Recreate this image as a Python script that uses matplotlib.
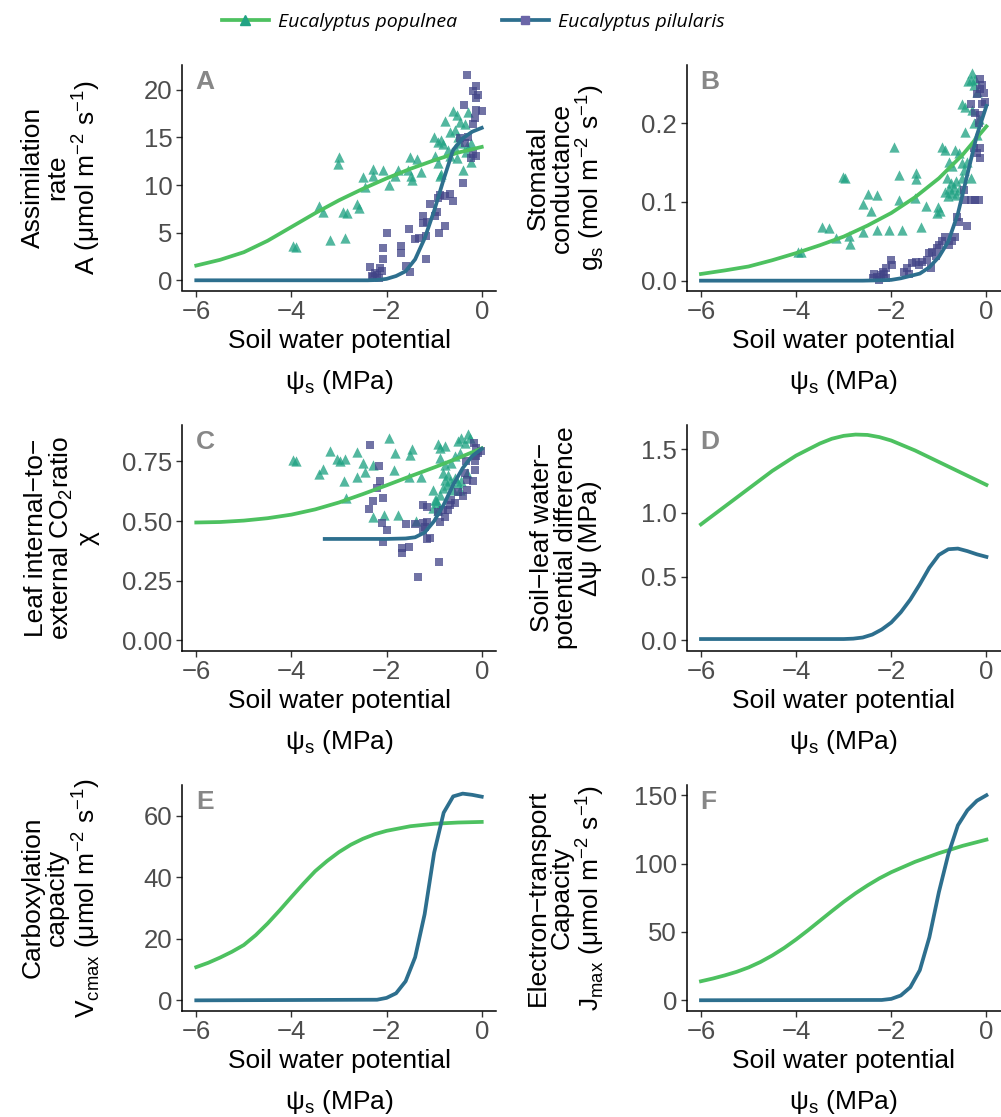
import matplotlib
matplotlib.use("Agg")
import matplotlib.pyplot as plt
from matplotlib.lines import Line2D

plt.rcParams['font.family'] = ['Liberation Sans', 'DejaVu Sans']

# ---------------- colours ----------------
GREEN = '#4DC160'
BLUE = '#2D6F8E'
TRI = '#22A384'
SQ = '#414487'

species = ['Eucalyptus populnea', 'Eucalyptus pilularis']

# ---------------- panel A: assimilation ----------------
A_pop_x = [-3.97, -3.90, -3.43, -3.33, -3.19, -2.99, -3.03, -2.87, -2.91, -2.84, -2.62, -2.59, -2.49, -2.45, -2.29,
           -2.28, -2.07, -1.94, -1.83, -1.76, -1.55, -1.51, -1.49, -1.47, -1.37, -1.27, -1.01, -0.99, -0.92, -0.92,
           -0.88, -0.85, -0.85, -0.81, -0.78, -0.71, -0.67, -0.67, -0.61, -0.57, -0.57, -0.53, -0.52, -0.50, -0.46,
           -0.45, -0.39, -0.35, -0.34, -0.32, -0.29, -0.22, -0.22]
A_pop_y = [3.6, 3.5, 7.8, 7.2, 4.25, 12.9, 12.2, 4.4, 7.2, 7.1, 8.0, 7.6, 10.8, 9.8, 11.7,
           10.9, 11.6, 10.0, 11.0, 11.6, 11.6, 12.9, 10.9, 10.5, 12.7, 11.4, 15.0, 13.0, 14.5, 12.3,
           10.9, 14.7, 11.2, 14.3, 16.7, 13.7, 15.6, 13.1, 17.8, 15.8, 13.9, 12.8, 17.3, 15.0, 16.6,
           14.4, 11.6, 16.4, 13.5, 14.1, 17.7, 14.4, 12.4]
A_pil_x = [-0.32, -0.11, -0.18, -0.08, -0.13, -0.38, -0.11, 0.0, -0.15, -0.18, -0.45, -0.36, -0.29, -0.18, -0.13,
           -0.22, -0.39, -0.88, -0.92, -0.78, -0.67, -0.61, -1.09, -0.95, -0.99, -1.23, -1.24, -1.15, -0.78, -0.90,
           -1.53, -1.41, -1.32, -1.18, -1.99, -1.69, -1.69, -2.07, -1.18, -2.08, -2.14, -2.35, -2.24, -2.10, -2.31,
           -2.15, -1.51, -1.60, -2.28, -2.20]
A_pil_y = [21.6, 20.4, 19.9, 19.5, 19.1, 18.4, 17.9, 17.8, 17.0, 16.4, 14.9, 14.4, 15.0, 13.3, 13.0,
           12.8, 10.2, 9.0, 8.6, 8.8, 9.1, 8.3, 8.0, 7.2, 6.7, 6.8, 6.0, 6.1, 5.7, 5.0,
           5.4, 4.3, 4.4, 4.7, 5.0, 3.6, 2.9, 3.4, 2.2, 2.2, 1.3, 1.4, 0.77, 0.94, 0.42,
           0.25, 0.88, 1.5, 0.3, 0.6]
A_pop_cx = [-6, -5.5, -5, -4.5, -4, -3.5, -3, -2.5, -2, -1.5, -1, -0.5, 0]
A_pop_cy = [1.55, 2.15, 2.95, 4.15, 5.6, 7.05, 8.4, 9.6, 10.7, 11.7, 12.6, 13.4, 14.0]
A_pil_cx = [-6, -2.4, -2.2, -2.0, -1.8, -1.6, -1.4, -1.2, -1.0, -0.8, -0.6, -0.4, -0.2, 0]
A_pil_cy = [0, 0, 0.03, 0.15, 0.45, 0.95, 2.2, 4.4, 7.3, 10.6, 13.7, 14.9, 15.6, 16.0]

# ---------------- panel B: stomatal conductance ----------------
B_pop_x = [-3.96, -3.89, -3.45, -3.31, -3.17, -3.01, -2.97, -2.88, -2.86, -2.60, -2.48, -2.29, -2.60, -2.43, -2.29,
           -2.04, -1.77, -1.38, -1.94, -1.84, -1.49, -1.49, -1.84, -1.50, -1.26, -1.01, -0.98, -1.03, -0.93, -0.87,
           -0.66, -0.58, -0.79, -0.72, -0.51, -0.47, -0.40, -0.82, -0.65, -0.75, -0.68, -0.79, -0.58, -0.51, -0.33,
           -0.87, -0.72, -0.80, -0.65, -0.30, -0.33, -0.23, -0.38, -0.27, -0.20, -0.51, -0.45, -0.30, -0.27, -0.16,
           -0.44, -0.20]
B_pop_y = [0.037, 0.036, 0.068, 0.067, 0.054, 0.132, 0.130, 0.057, 0.047, 0.062, 0.110, 0.109, 0.098, 0.088, 0.064,
           0.064, 0.064, 0.068, 0.170, 0.134, 0.137, 0.129, 0.103, 0.105, 0.095, 0.094, 0.088, 0.086, 0.170, 0.166,
           0.166, 0.162, 0.151, 0.146, 0.149, 0.141, 0.151, 0.130, 0.127, 0.124, 0.119, 0.117, 0.115, 0.130, 0.130,
           0.113, 0.111, 0.107, 0.109, 0.264, 0.255, 0.256, 0.254, 0.249, 0.240, 0.225, 0.221, 0.217, 0.200, 0.205,
           0.189, 0.185]
B_pil_x = [-0.13, -0.09, -0.13, -0.06, -0.20, -0.02, -0.09, -0.33, -0.23, -0.13, -0.16, -0.27, -0.13, -0.13, -0.20,
           -0.47, -0.44, -0.33, -0.23, -0.16, -0.41, -0.61, -0.58, -0.66, -0.72, -0.79, -0.93, -0.87, -1.00, -1.03,
           -1.14, -1.21, -1.07, -1.24, -1.35, -1.42, -1.49, -1.56, -1.17, -2.01, -1.98, -1.66, -1.73, -1.63, -2.36,
           -2.29, -2.22, -2.15, -2.11, -2.25, -2.39, -2.18, -2.11]
B_pil_y = [0.256, 0.249, 0.243, 0.238, 0.237, 0.227, 0.225, 0.225, 0.213, 0.211, 0.200, 0.168, 0.168, 0.156, 0.162,
           0.115, 0.103, 0.102, 0.102, 0.102, 0.069, 0.081, 0.075, 0.056, 0.050, 0.045, 0.050, 0.056, 0.045, 0.041,
           0.037, 0.035, 0.031, 0.026, 0.024, 0.020, 0.024, 0.022, 0.016, 0.026, 0.020, 0.016, 0.011, 0.009, 0.009,
           0.005, 0.007, 0.009, 0.003, 0.001, 0.003, 0.011, 0.016]
B_pop_cx = [-6, -5.5, -5, -4.5, -4, -3.5, -3, -2.5, -2, -1.5, -1, -0.5, 0]
B_pop_cy = [0.0085, 0.013, 0.018, 0.026, 0.035, 0.045, 0.056, 0.070, 0.086, 0.106, 0.130, 0.160, 0.196]
B_pil_cx = [-6, -2.6, -2.2, -2.0, -1.8, -1.6, -1.4, -1.2, -1.0, -0.8, -0.6, -0.4, -0.2, 0]
B_pil_cy = [0, 0, 0.0005, 0.001, 0.003, 0.006, 0.009, 0.017, 0.030, 0.050, 0.085, 0.135, 0.185, 0.222]

# ---------------- panel C: ci/ca ratio ----------------
C_pop_x = [-3.96, -3.90, -3.43, -3.33, -3.19, -3.04, -2.98, -2.87, -2.89, -2.85, -2.63, -2.62, -2.49, -2.45, -2.28,
           -2.29, -2.06, -1.94, -1.83, -1.85, -1.76, -1.51, -1.47, -1.52, -1.38, -1.27, -0.92, -0.78, -0.88, -0.50,
           -0.43, -0.29, -0.36, -0.25, -0.88, -0.78, -0.64, -0.57, -0.46, -0.81, -0.71, -0.78, -0.67, -0.74, -0.81,
           -0.57, -0.50, -0.60, -0.46, -1.02, -0.97, -0.88, -0.99, -0.43, -0.32, -1.02, -0.92, -0.95]
C_pop_y = [0.757, 0.750, 0.698, 0.718, 0.792, 0.760, 0.750, 0.760, 0.670, 0.597, 0.788, 0.685, 0.743, 0.704, 0.736,
           0.517, 0.527, 0.848, 0.785, 0.715, 0.527, 0.778, 0.802, 0.685, 0.499, 0.685, 0.824, 0.813, 0.806, 0.834,
           0.848, 0.866, 0.827, 0.848, 0.763, 0.736, 0.743, 0.771, 0.785, 0.701, 0.694, 0.673, 0.666, 0.652, 0.638,
           0.680, 0.659, 0.631, 0.631, 0.631, 0.589, 0.610, 0.589, 0.666, 0.701, 0.555, 0.548, 0.576]
C_pil_x = [-2.34, -2.15, -2.13, -2.20, -2.29, -2.08, -2.36, -2.10, -1.99, -2.08, -1.68, -1.68, -1.52, -1.59, -1.41,
           -1.23, -1.16, -1.24, -1.20, -1.15, -1.23, -1.16, -1.08, -0.88, -0.78, -0.92, -0.81, -0.71, -0.90, -1.34,
           -0.67, -0.57, -0.64, -0.50, -0.39, -0.32, -0.32, -0.18, -0.36, -0.34, -0.15, -0.15, -0.11, -0.17, -0.11,
           -0.01, -0.08]
C_pil_y = [0.820, 0.729, 0.670, 0.638, 0.586, 0.597, 0.550, 0.492, 0.461, 0.411, 0.387, 0.366, 0.391, 0.489, 0.489,
           0.568, 0.559, 0.492, 0.475, 0.498, 0.457, 0.425, 0.429, 0.498, 0.519, 0.540, 0.548, 0.548, 0.327, 0.266,
           0.568, 0.576, 0.589, 0.624, 0.606, 0.631, 0.673, 0.666, 0.701, 0.750, 0.715, 0.750, 0.771, 0.827, 0.806,
           0.792, 0.785]
C_pop_cx = [-6, -5.5, -5, -4.5, -4, -3.5, -3, -2.5, -2, -1.5, -1, -0.5, 0]
C_pop_cy = [0.494, 0.496, 0.502, 0.512, 0.527, 0.549, 0.578, 0.613, 0.650, 0.688, 0.725, 0.764, 0.805]
C_pil_cx = [-3.3, -2.0, -1.6, -1.4, -1.2, -1.0, -0.8, -0.6, -0.4, -0.2, 0]
C_pil_cy = [0.425, 0.425, 0.427, 0.432, 0.452, 0.500, 0.568, 0.652, 0.722, 0.773, 0.803]

# ---------------- panel D: soil-leaf water potential difference ----------------
D_pop_cx = [-6, -5.5, -5, -4.5, -4, -3.5, -3.25, -3, -2.75, -2.5, -2.25, -2, -1.5, -1, -0.5, 0]
D_pop_cy = [0.91, 1.05, 1.19, 1.33, 1.45, 1.545, 1.582, 1.605, 1.615, 1.612, 1.595, 1.568, 1.49, 1.40, 1.31, 1.22]
D_pil_cx = [-6, -3.0, -2.8, -2.6, -2.4, -2.2, -2.0, -1.8, -1.6, -1.4, -1.2, -1.0, -0.8, -0.6, -0.4, -0.2, 0]
D_pil_cy = [0.01, 0.01, 0.013, 0.022, 0.045, 0.085, 0.14, 0.22, 0.32, 0.44, 0.57, 0.67, 0.715, 0.72, 0.70, 0.675,
            0.655]

# ---------------- panel E: Vcmax ----------------
E_pop_cx = [-6, -5.75, -5.5, -5.25, -5, -4.75, -4.5, -4.25, -4, -3.75, -3.5, -3.25, -3, -2.75, -2.5, -2.25, -2,
            -1.5, -1, -0.5, 0]
E_pop_cy = [10.8, 12.2, 13.9, 15.8, 18.0, 21.2, 25.0, 29.2, 33.6, 37.9, 42.0, 45.3, 48.2, 50.6, 52.5, 54.0, 55.1,
            56.6, 57.4, 57.8, 58.0]
E_pil_cx = [-6, -2.2, -2.0, -1.8, -1.6, -1.4, -1.2, -1.0, -0.8, -0.6, -0.4, -0.2, 0]
E_pil_cy = [0, 0.2, 0.8, 2.3, 6.2, 14.0, 28.0, 48.0, 61.0, 66.3, 67.2, 66.8, 66.2]

# ---------------- panel F: Jmax ----------------
F_pop_cx = [-6, -5.75, -5.5, -5.25, -5, -4.75, -4.5, -4.25, -4, -3.75, -3.5, -3.25, -3, -2.75, -2.5, -2.25, -2,
            -1.5, -1, -0.5, 0]
F_pop_cy = [13.9, 15.9, 18.2, 20.8, 24.0, 28.0, 32.8, 38.3, 44.5, 51.2, 58.2, 65.2, 72.0, 78.3, 84.0, 89.2, 93.7,
            101.3, 107.6, 113.0, 117.5]
F_pil_cx = [-6, -2.2, -2.0, -1.8, -1.6, -1.4, -1.2, -1.0, -0.8, -0.6, -0.4, -0.2, 0]
F_pil_cy = [0, 0.2, 1.0, 3.5, 9.5, 22.0, 46.0, 79.0, 107.0, 128.0, 139.0, 146.0, 150.0]

# ---------------- axis text ----------------
x_ticks = [-6, -4, -2, 0]
x_ticklabels = ['\u22126', '\u22124', '\u22122', '0']
UNIT = ' (\u03bcmol m$^{\\mathregular{-2}}$ s$^{\\mathregular{-1}}$)'
ylabels = {
    'A': 'Assimilation\nrate\nA' + UNIT,
    'B': 'Stomatal\nconductance\ng$_{\\mathregular{s}}$ (mol m$^{\\mathregular{-2}}$ s$^{\\mathregular{-1}}$)',
    'C': 'Leaf internal\u2212to\u2212\nexternal CO$_{\\mathregular{2}}$ratio\n\u03c7',
    'D': 'Soil\u2212leaf water\u2212\npotential difference\n\u0394\u03c8 (MPa)',
    'E': 'Carboxylation\ncapacity\nV$_{\\mathregular{cmax}}$' + UNIT,
    'F': 'Electron\u2212transport\nCapacity\nJ$_{\\mathregular{max}}$' + UNIT,
}
yticks = {
    'A': ([0, 5, 10, 15, 20], ['0', '5', '10', '15', '20']),
    'B': ([0.0, 0.1, 0.2], ['0.0', '0.1', '0.2']),
    'C': ([0.0, 0.25, 0.5, 0.75], ['0.00', '0.25', '0.50', '0.75']),
    'D': ([0.0, 0.5, 1.0, 1.5], ['0.0', '0.5', '1.0', '1.5']),
    'E': ([0, 20, 40, 60], ['0', '20', '40', '60']),
    'F': ([0, 50, 100, 150], ['0', '50', '100', '150']),
}
ylims = {'A': (-1.07, 22.6), 'B': (-0.0125, 0.274), 'C': (-0.043, 0.903),
         'D': (-0.08, 1.69), 'E': (-3.3, 70.0), 'F': (-7.5, 157.5)}

points = {
    'A': (A_pop_x, A_pop_y, A_pil_x, A_pil_y),
    'B': (B_pop_x, B_pop_y, B_pil_x, B_pil_y),
    'C': (C_pop_x, C_pop_y, C_pil_x, C_pil_y),
}
curves = {
    'A': (A_pop_cx, A_pop_cy, A_pil_cx, A_pil_cy),
    'B': (B_pop_cx, B_pop_cy, B_pil_cx, B_pil_cy),
    'C': (C_pop_cx, C_pop_cy, C_pil_cx, C_pil_cy),
    'D': (D_pop_cx, D_pop_cy, D_pil_cx, D_pil_cy),
    'E': (E_pop_cx, E_pop_cy, E_pil_cx, E_pil_cy),
    'F': (F_pop_cx, F_pop_cy, F_pil_cx, F_pil_cy),
}

# ---------------- figure ----------------
W, H = 1001, 1117
fig = plt.figure(figsize=(W / 100, H / 100), dpi=100)

col_left = {0: 182 / W, 1: 686.7 / W}
ax_w = 314 / W
row_top = {0: 65, 1: 425, 2: 785}
ax_h_px = 225.5
label_cx = {0: 61.5, 1: 566}

panels = ['A', 'B', 'C', 'D', 'E', 'F']
for i, p in enumerate(panels):
    r, c = divmod(i, 2)
    top = row_top[r]
    ax = fig.add_axes([col_left[c], 1 - (top + ax_h_px) / H, ax_w, ax_h_px / H])
    ax.set_facecolor('white')
    if p in points:
        px1, py1, px2, py2 = points[p]
        ax.scatter(px1, py1, marker='^', s=55, color=TRI, alpha=0.78, linewidths=0, zorder=2)
        ax.scatter(px2, py2, marker='s', s=38, color=SQ, alpha=0.75, linewidths=0, zorder=2)
    cx1, cy1, cx2, cy2 = curves[p]
    ax.plot(cx1, cy1, color=GREEN, lw=2.7, zorder=3, solid_joinstyle='round')
    ax.plot(cx2, cy2, color=BLUE, lw=2.7, zorder=3, solid_joinstyle='round')

    ax.set_xlim(-6.3, 0.3)
    ax.set_ylim(*ylims[p])
    ax.set_xticks(x_ticks)
    ax.set_xticklabels(x_ticklabels)
    yt, ytl = yticks[p]
    ax.set_yticks(yt)
    ax.set_yticklabels(ytl)
    for s in ['top', 'right']:
        ax.spines[s].set_visible(False)
    for s in ['left', 'bottom']:
        ax.spines[s].set_linewidth(1.1)
        ax.spines[s].set_color('black')
    ax.tick_params(axis='both', direction='out', length=4, width=1.0, color='#333333',
                   labelsize=18.5, labelcolor='#4D4D4D', pad=3)

    ax.text(0.044, 0.978, p, transform=ax.transAxes, ha='left', va='top',
            fontsize=19, fontweight='bold', color='#878787')

    # x-axis title (two lines)
    ax.text(0.5, -57.3 / ax_h_px, 'Soil water potential', transform=ax.transAxes,
            ha='center', va='baseline', fontsize=19, color='black')
    ax.text(0.5, -98.5 / ax_h_px, '\u03c8$_{\\mathregular{s}}$ (MPa)', transform=ax.transAxes,
            ha='center', va='baseline', fontsize=19, color='black')

    # y-axis title
    cy = 1 - (top + ax_h_px / 2) / H
    fig.text(label_cx[c] / W, cy, ylabels[p], rotation=90, ha='center', va='center',
             multialignment='center', fontsize=19, color='black', linespacing=1.0)

# ---------------- legend ----------------
handles = [
    Line2D([], [], color=GREEN, lw=2.7, marker='^', markersize=6.5,
           markerfacecolor=TRI, markeredgecolor=TRI),
    Line2D([], [], color=BLUE, lw=2.7, marker='s', markersize=5.5,
           markerfacecolor='#6B66A8', markeredgecolor='#6B66A8'),
]
fig.legend(handles, species, loc='center', bbox_to_anchor=(473.5 / W, 1 - 22 / H), ncol=2,
           frameon=False, prop={'family': 'Open Sans', 'style': 'italic', 'size': 14},
           handlelength=2.4, handletextpad=0.5, columnspacing=2.3)

fig.savefig('out.png', dpi=100, facecolor='white')
